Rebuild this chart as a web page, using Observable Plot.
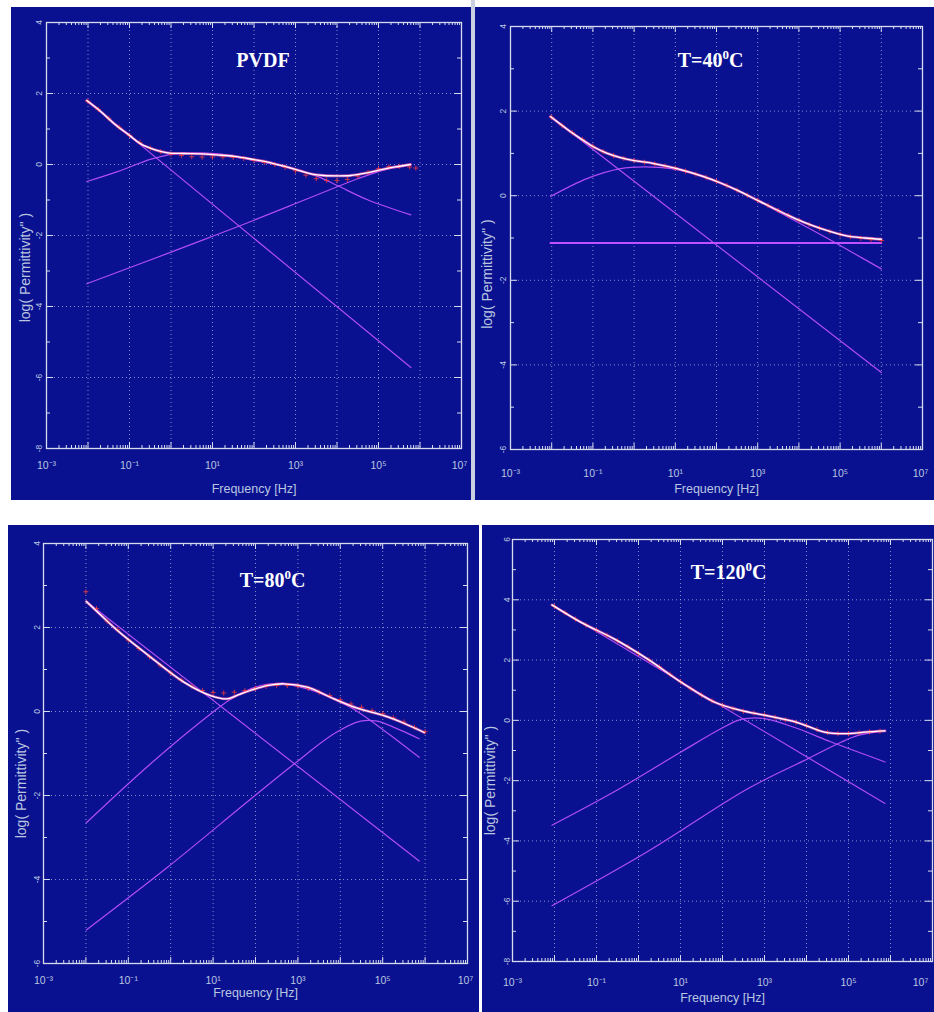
<!DOCTYPE html>
<html><head><meta charset="utf-8">
<script src="https://cdn.jsdelivr.net/npm/d3@7"></script>
<script src="https://cdn.jsdelivr.net/npm/@observablehq/plot@0.6"></script>
<style>
body{margin:0;background:#fff;}
#wrap{position:relative;width:934px;height:1012px;overflow:hidden;background:#fff;}
.panel{position:absolute;}
.panel svg{display:block;}
.sep{position:absolute;}
</style></head><body><div id="wrap"></div>
<script>
// ---------- tick labels ----------
const xTickExp = [-3, -1, 1, 3, 5, 7];
const xTickLabels = ["10⁻³", "10⁻¹", "10¹", "10³", "10⁵", "10⁷"];
const xGridExp = [-2, -1, 0, 1, 2, 3, 4, 5, 6];
const yTicksP1 = [-8, -6, -4, -2, 0, 2, 4];
const yTicksP2 = [-6, -4, -2, 0, 2, 4];
const yTicksP3 = [-6, -4, -2, 0, 2, 4];
const yTicksP4 = [-8, -6, -4, -2, 0, 2, 4, 6];
const titles = ["PVDF", "T=40⁰C", "T=80⁰C", "T=120⁰C"];

// ---------- PVDF ----------
const p1FitF = [-2.03,-1.7,-1.37,-1.0,-0.73,-0.4,-0.08,0.3,0.72,1.1,1.53,2.0,2.33,2.7,3.12,3.4,3.68,4.0,4.33,4.65,4.97,5.4,5.77];
const p1Fit  = [1.80,1.50,1.15,0.82,0.58,0.42,0.33,0.31,0.30,0.27,0.23,0.14,0.07,-0.04,-0.18,-0.27,-0.31,-0.32,-0.31,-0.25,-0.17,-0.07,0.0];
const p1DataF = [-2.0,-1.75,-1.5,-1.25,-1.0,-0.75,-0.5,-0.25,0,0.25,0.5,0.75,1.0,1.25,1.5,1.75,2.0,2.25,2.5,2.75,3.0,3.25,3.5,3.75,4.0,4.25,4.5,4.75,5.0,5.25,5.5,5.75,5.9];
const p1Data  = [1.78,1.55,1.3,1.05,0.82,0.62,0.46,0.36,0.29,0.25,0.22,0.21,0.21,0.21,0.2,0.17,0.12,0.06,0.0,-0.08,-0.18,-0.3,-0.4,-0.45,-0.45,-0.42,-0.33,-0.22,-0.12,-0.06,-0.05,-0.07,-0.1];
const p1CondF = [-2.03, 5.78];
const p1Cond  = [1.80, -5.72];
const p1Rel1F = [-2.03,-1.29,-0.48,0.08,0.72,1.13,1.93,2.74,3.54,4.02,4.75,5.78];
const p1Rel1  = [-0.48,-0.2,0.15,0.30,0.32,0.30,0.13,-0.06,-0.34,-0.6,-1.0,-1.42];
const p1Rel2F = [-2.03,0,1.05,2,3,4.02,4.5,5.0,5.4,5.78];
const p1Rel2  = [-3.36,-2.47,-2.0,-1.57,-1.1,-0.62,-0.4,-0.2,-0.09,-0.01];

// ---------- T = 40 C ----------
const p2FitF = [-2.03,-1.54,-1.25,-0.98,-0.65,-0.33,0,0.48,1.04,1.69,2.1,2.5,3.06,3.71,4.1,4.52,5.16,5.6,6.0];
const p2Fit  = [1.87,1.51,1.32,1.15,1.0,0.90,0.83,0.76,0.64,0.45,0.30,0.13,-0.14,-0.45,-0.62,-0.77,-0.95,-1.0,-1.03];
const p2DataF = [-2.0,-1.75,-1.5,-1.25,-1.0,-0.75,-0.5,-0.25,0,0.25,0.5,0.75,1.0,1.25,1.5,1.75,2.0,2.25,2.5,2.75,3.0,3.25,3.5,3.75,4.0,4.25,4.5,4.75,5.0,5.25,5.5,5.75,6.0];
const p2Data  = [1.85,1.66,1.49,1.33,1.17,1.04,0.95,0.88,0.83,0.79,0.75,0.70,0.65,0.58,0.51,0.43,0.34,0.24,0.13,0.01,-0.11,-0.23,-0.35,-0.47,-0.58,-0.68,-0.77,-0.85,-0.92,-0.97,-1.01,-1.04,-1.06];
const p2CondF = [-2.03, 6.0];
const p2Cond  = [1.87, -4.18];
const p2RelF  = [-2.03,-1.13,-0.33,0.24,0.89,1.69,2.5,3.71,4.68,5.33,6.0];
const p2Rel   = [-0.02,0.41,0.64,0.68,0.64,0.45,0.13,-0.49,-1.0,-1.36,-1.73];
const p2FlatF = [-2.03, 6.0];
const p2Flat  = [-1.12, -1.12];

// ---------- T = 80 C ----------
const p3FitF = [-1.99,-1.6,-1.27,-0.48,0.31,0.94,1.33,1.6,1.88,2.3,2.67,3.22,3.85,4.4,5.03,5.5,5.98];
const p3Fit  = [2.62,2.25,1.94,1.30,0.70,0.38,0.30,0.40,0.50,0.62,0.66,0.58,0.30,0.08,-0.10,-0.28,-0.5];
const p3DataF = [-2.0,-1.75,-1.5,-1.25,-1.0,-0.75,-0.5,-0.25,0,0.25,0.5,0.75,1.0,1.25,1.5,1.75,2.0,2.25,2.5,2.75,3.0,3.25,3.5,3.75,4.0,4.25,4.5,4.75,5.0,5.25,5.5,5.75,6.0];
const p3Data  = [2.85,2.45,2.15,1.95,1.7,1.5,1.3,1.1,0.92,0.75,0.6,0.5,0.45,0.44,0.46,0.5,0.55,0.6,0.62,0.62,0.6,0.55,0.46,0.38,0.28,0.18,0.1,0.02,-0.05,-0.15,-0.25,-0.38,-0.48];
const p3CondF = [-1.99, 5.86];
const p3Cond  = [2.62, -3.56];
const p3Rel1F = [-1.99,-0.48,0.94,1.49,2.12,2.67,3.46,4.24,5.03,5.86];
const p3Rel1  = [-2.65,-1.25,-0.06,0.34,0.62,0.66,0.46,0.10,-0.45,-1.09];
const p3Rel2F = [-1.99,-0.09,1.88,2.91,3.85,4.48,4.87,5.43,5.86];
const p3Rel2  = [-5.2,-3.72,-2.09,-1.25,-0.53,-0.23,-0.23,-0.45,-0.65];

// ---------- T = 120 C ----------
const p4FitF = [-2.06,-1.38,-0.59,0.21,1.01,1.8,2.44,3.0,3.8,4.43,4.99,5.39,5.87];
const p4Fit  = [3.83,3.26,2.71,2.04,1.27,0.61,0.33,0.17,-0.08,-0.39,-0.44,-0.39,-0.35];
const p4DataF = [-2.0,-1.75,-1.5,-1.25,-1.0,-0.75,-0.5,-0.25,0,0.25,0.5,0.75,1.0,1.25,1.5,1.75,2.0,2.25,2.5,2.75,3.0,3.25,3.5,3.75,4.0,4.25,4.5,4.75,5.0,5.25,5.5,5.75];
const p4Data  = [3.78,3.57,3.36,3.16,2.99,2.82,2.64,2.44,2.22,2.0,1.77,1.53,1.28,1.05,0.84,0.65,0.5,0.38,0.3,0.24,0.18,0.1,0.02,-0.07,-0.18,-0.3,-0.4,-0.44,-0.44,-0.41,-0.38,-0.36];
const p4CondF = [-2.06, 5.87];
const p4Cond  = [3.83, -2.76];
const p4Rel1F = [-2.06,-0.59,1.01,1.96,2.44,3.0,3.8,4.59,5.87];
const p4Rel1  = [-3.48,-2.38,-1.05,-0.28,0.03,0.06,-0.28,-0.72,-1.38];
const p4Rel2F = [-2.06,0.21,2.6,4.04,4.83,5.23,5.87];
const p4Rel2  = [-6.15,-4.36,-2.27,-1.27,-0.72,-0.5,-0.35];

// ---------- styling ----------
const BG = "#0a1190";
const FRAME = "#d6dcec";
const GRID = "#aab4dc";
const TXT = "#b9c6e0";
const COMP = "#b04cf6";
const FIT_HALO = "#ff5fb8";
const DATA = "#ff3a3a";

const zip = (fs, ys) => fs.map((f, i) => ({f: 10 ** f, y: ys[i]}));

function panel(cfg) {
  const iw = cfg.w - cfg.ml - cfg.mr, ih = cfg.h - cfg.mt - cfg.mb;
  const [y0, y1] = cfg.ydom;
  const minorY = d3.range(y0 + 1, y1, 2);
  const minorX = [];
  for (let e = -3; e < 7; e++) for (let k = 2; k <= 9; k++) minorX.push(k * 10 ** e);
  const majorX = d3.range(-3, 8).map(e => 10 ** e);
  const comps = cfg.comps.map(c => Plot.line(zip(c[0], c[1]), {x: "f", y: "y", stroke: c[2] || COMP, strokeWidth: c[3] || 1.2, curve: "catmull-rom"}));
  const fit = zip(cfg.fit[0], cfg.fit[1]);
  const data = zip(cfg.data[0], cfg.data[1]);
  const xt = xTickExp.map((e, i) => ({x: 10 ** e, t: xTickLabels[i]}));
  const xtMain = xt.slice(0, -1), xtLast = xt.slice(-1);
  const marks = [
    Plot.ruleX(xGridExp.map(e => 10 ** e), {x: d => d, stroke: GRID, strokeOpacity: 0.75, strokeDasharray: "1,3"}),
    Plot.ruleY(cfg.yticks.filter(v => v > y0 && v < y1), {y: d => d, stroke: GRID, strokeOpacity: 0.75, strokeDasharray: "1,3"}),
    // ticks bottom/top
    Plot.tickX(minorX, {x: d => d, insetTop: ih - 3, stroke: FRAME}),
    Plot.tickX(majorX, {x: d => d, insetTop: ih - 6, stroke: FRAME}),
    Plot.tickX(minorX, {x: d => d, insetBottom: ih - 3, stroke: FRAME}),
    Plot.tickX(majorX, {x: d => d, insetBottom: ih - 6, stroke: FRAME}),
    // ticks left/right
    Plot.tickY(minorY, {y: d => d, insetRight: iw - 4, stroke: FRAME}),
    Plot.tickY(cfg.yticks, {y: d => d, insetRight: iw - 7, stroke: FRAME}),
    Plot.tickY(minorY, {y: d => d, insetLeft: iw - 4, stroke: FRAME}),
    Plot.tickY(cfg.yticks, {y: d => d, insetLeft: iw - 7, stroke: FRAME}),
    ...comps,
    Plot.line(fit, {x: "f", y: "y", stroke: FIT_HALO, strokeWidth: 2.8, strokeOpacity: 0.7, curve: "catmull-rom"}),
    Plot.dot(data, {x: "f", y: "y", symbol: "plus", r: 1.8, stroke: DATA, strokeWidth: 0.9, strokeOpacity: 0.85}),
    Plot.line(fit, {x: "f", y: "y", stroke: "#ffffff", strokeWidth: 1.3, curve: "catmull-rom"}),
    Plot.frame({stroke: FRAME, strokeWidth: 1.3}),
    // tick labels
    Plot.text(xtMain, {x: "x", text: "t", frameAnchor: "bottom", dy: cfg.xtDy, lineAnchor: "middle", fill: TXT, fontSize: 10.5}),
    Plot.text(xtLast, {x: "x", text: "t", frameAnchor: "bottom", dy: cfg.xtDy, dx: cfg.lastDx, lineAnchor: "middle", fill: TXT, fontSize: 10.5}),
    Plot.text(cfg.yticks, {y: d => d, text: d => String(d), frameAnchor: "left", dx: cfg.ytDx, rotate: -90, textAnchor: "middle", fill: TXT, fontSize: 8.5}),
    // axis labels
    Plot.text(["Frequency [Hz]"], {frameAnchor: "bottom", dy: cfg.xlDy, lineAnchor: "middle", fill: TXT, fontSize: 12.5, fontFamily: "'Liberation Sans Narrow', 'Liberation Sans', Arial, sans-serif"}),
    Plot.text(["log( Permittivity'' )"], {frameAnchor: "left", dx: cfg.ylDx, dy: cfg.ylDy, rotate: -90, textAnchor: "middle", fill: TXT, fontSize: 14, fontFamily: "'Liberation Sans', Arial, sans-serif"}),
    // title
    Plot.text([cfg.title], {frameAnchor: "top", dx: cfg.tDx, dy: cfg.tDy, lineAnchor: "middle", fill: "#ffffff", fontSize: 20, fontWeight: "bold", fontFamily: "'Liberation Serif', 'Times New Roman', serif"})
  ];
  const svg = Plot.plot({
    width: cfg.w, height: cfg.h,
    marginLeft: cfg.ml, marginRight: cfg.mr, marginTop: cfg.mt, marginBottom: cfg.mb,
    x: {type: "log", domain: [1e-3, 1e7], axis: null},
    y: {domain: cfg.ydom, axis: null},
    style: {background: BG, fontFamily: "'Liberation Sans', Arial, sans-serif"},
    marks
  });
  // superscript degree zero in titles
  d3.select(svg).selectAll("text").each(function() {
    const s = this.textContent;
    if (s.includes("⁰") && s.startsWith("T=")) {
      const [a, b] = s.split("⁰");
      const t = d3.select(this);
      t.text(null);
      t.append("tspan").text(a);
      t.append("tspan").attr("dy", "-8").attr("font-size", "13").text("0");
      t.append("tspan").attr("dy", "8").text(b);
    }
  });
  const div = document.createElement("div");
  div.className = "panel";
  div.style.left = cfg.left + "px";
  div.style.top = cfg.top + "px";
  div.appendChild(svg);
  return div;
}

const wrap = document.getElementById("wrap");
const cfgs = [
  {left: 11, top: 7, w: 460, h: 493, ml: 35, mr: 10, mt: 15, mb: 52, ydom: [-8, 4], yticks: yTicksP1, title: titles[0],
   tDx: 9, tDy: 38, xtDy: 17, xlDy: 40, ytDx: -7, ylDx: -21, ylDy: 32, lastDx: -2,
   fit: [p1FitF, p1Fit], data: [p1DataF, p1Data], comps: [[p1CondF, p1Cond], [p1Rel1F, p1Rel1], [p1Rel2F, p1Rel2]]},
  {left: 475, top: 7, w: 459, h: 493, ml: 35, mr: 12, mt: 19, mb: 51, ydom: [-6, 4], yticks: yTicksP2, title: titles[1],
   tDx: -6, tDy: 34, xtDy: 24, xlDy: 39, ytDx: -7, ylDx: -23, ylDy: 36, lastDx: -2,
   fit: [p2FitF, p2Fit], data: [p2DataF, p2Data], comps: [[p2CondF, p2Cond], [p2RelF, p2Rel], [p2FlatF, p2Flat, "#c050ff", 2]]},
  {left: 8, top: 525, w: 471, h: 487, ml: 35, mr: 12, mt: 18, mb: 49, ydom: [-6, 4], yticks: yTicksP3, title: titles[2],
   tDx: 17, tDy: 37, xtDy: 17, xlDy: 29, ytDx: -6, ylDx: -22, ylDy: 30, lastDx: -2,
   fit: [p3FitF, p3Fit], data: [p3DataF, p3Data], comps: [[p3CondF, p3Cond], [p3Rel1F, p3Rel1], [p3Rel2F, p3Rel2]]},
  {left: 482, top: 525, w: 452, h: 487, ml: 30, mr: 2, mt: 14, mb: 51, ydom: [-8, 6], yticks: yTicksP4, title: titles[3],
   tDx: 6, tDy: 33, xtDy: 21, xlDy: 36, ytDx: -5, ylDx: -22, ylDy: 30, lastDx: -12,
   fit: [p4FitF, p4Fit], data: [p4DataF, p4Data], comps: [[p4CondF, p4Cond], [p4Rel1F, p4Rel1], [p4Rel2F, p4Rel2]]}
];
cfgs.forEach(c => wrap.appendChild(panel(c)));

// separators between panels
const sepTop = document.createElement("div");
sepTop.className = "sep";
Object.assign(sepTop.style, {left: "471px", top: "0px", width: "4px", height: "500px", background: "#c9d0e2"});
wrap.appendChild(sepTop);
</script></body></html>
